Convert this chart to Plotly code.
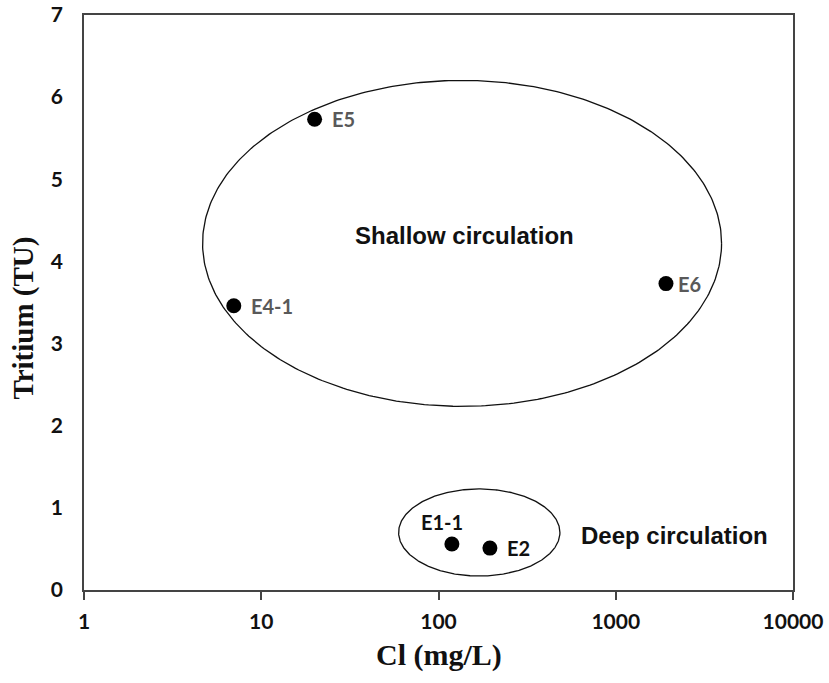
import numpy as np
import plotly.graph_objects as go

# Data
samples = ["E5", "E4-1", "E6", "E1-1", "E2"]
cl_values = [20, 7.0, 1920, 119, 195]
tritium_values = [5.73, 3.46, 3.73, 0.56, 0.51]
label_colors = ["#595959", "#595959", "#595959", "#111111", "#111111"]

x_tick_vals = [1, 10, 100, 1000, 10000]
x_tick_text = ["1", "10", "100", "1000", "10000"]
y_tick_vals = [0, 1, 2, 3, 4, 5, 6, 7]

# Group ellipses: center (log10 Cl, tritium) and radii (log decades, TU)
groups = ["Shallow circulation", "Deep circulation"]
group_label_x = [140, 2150]
group_label_y = [4.32, 0.66]
ell_cx = [2.133, 2.23]
ell_cy = [4.22, 0.70]
ell_rx = [1.464, 0.455]
ell_ry = [1.984, 0.53]

fig = go.Figure()

t = np.linspace(0, 2 * np.pi, 400)
for cx, cy, rx, ry in zip(ell_cx, ell_cy, ell_rx, ell_ry):
    fig.add_trace(go.Scatter(
        x=10 ** (cx + rx * np.cos(t)), y=cy + ry * np.sin(t),
        mode="lines", line=dict(color="#111111", width=1.3),
        hoverinfo="skip", showlegend=False))

fig.add_trace(go.Scatter(
    x=cl_values, y=tritium_values, mode="markers",
    marker=dict(color="black", size=15, line=dict(width=0)),
    text=samples, showlegend=False))

# point labels
offsets = {"E5": (15, 0, "left"), "E4-1": (15, 0, "left"), "E6": (10, 0, "left"),
           "E1-1": (-10, -22, "center"), "E2": (15, 0, "left")}
for s, xv, yv, c in zip(samples, cl_values, tritium_values, label_colors):
    dx, dy, al = offsets[s]
    fig.add_annotation(x=np.log10(xv), y=yv, text=s, showarrow=False,
                       xshift=dx, yshift=-dy, xanchor=al,
                       font=dict(family="Lato", size=20, color=c, weight="bold"))

# group labels
for g, gx, gy in zip(groups, group_label_x, group_label_y):
    fig.add_annotation(x=np.log10(gx), y=gy, text=g, showarrow=False,
                       font=dict(family="Liberation Sans", size=24, color="#111111", weight="bold"))

# axis titles
fig.add_annotation(x=0.5, y=0, xref="paper", yref="paper", yshift=-65, text="Cl (mg/L)",
                   showarrow=False, yanchor="middle",
                   font=dict(family="Liberation Serif", size=30, color="#111", weight="bold"))
fig.add_annotation(x=0, y=0.5, xref="paper", yref="paper", xshift=-61, yshift=-16,
                   text="Tritium (TU)", showarrow=False, textangle=-90, xanchor="center",
                   font=dict(family="Liberation Serif", size=29, color="#111", weight="bold"))

fig.update_xaxes(type="log", range=[0, 4], tickvals=x_tick_vals, ticktext=x_tick_text,
                 ticks="outside", ticklen=8, tickcolor="#444", tickwidth=1.5,
                 showline=True, linecolor="#444", linewidth=1.5, mirror=True,
                 showgrid=False, zeroline=False, automargin=False, ticklabelstandoff=4,
                 tickfont=dict(family="Lato", size=21, color="#111", weight="bold"))
fig.update_yaxes(range=[0, 7], tickvals=y_tick_vals, ticks="", ticklabelstandoff=15,
                 showline=True, linecolor="#444", linewidth=1.5, mirror=True,
                 showgrid=False, zeroline=False, automargin=False,
                 tickfont=dict(family="Lato", size=21, color="#111", weight="bold"))

fig.update_layout(width=829, height=683, plot_bgcolor="white", paper_bgcolor="white",
                  margin=dict(l=84, r=36, t=15, b=93))

fig.write_html("out.html")
